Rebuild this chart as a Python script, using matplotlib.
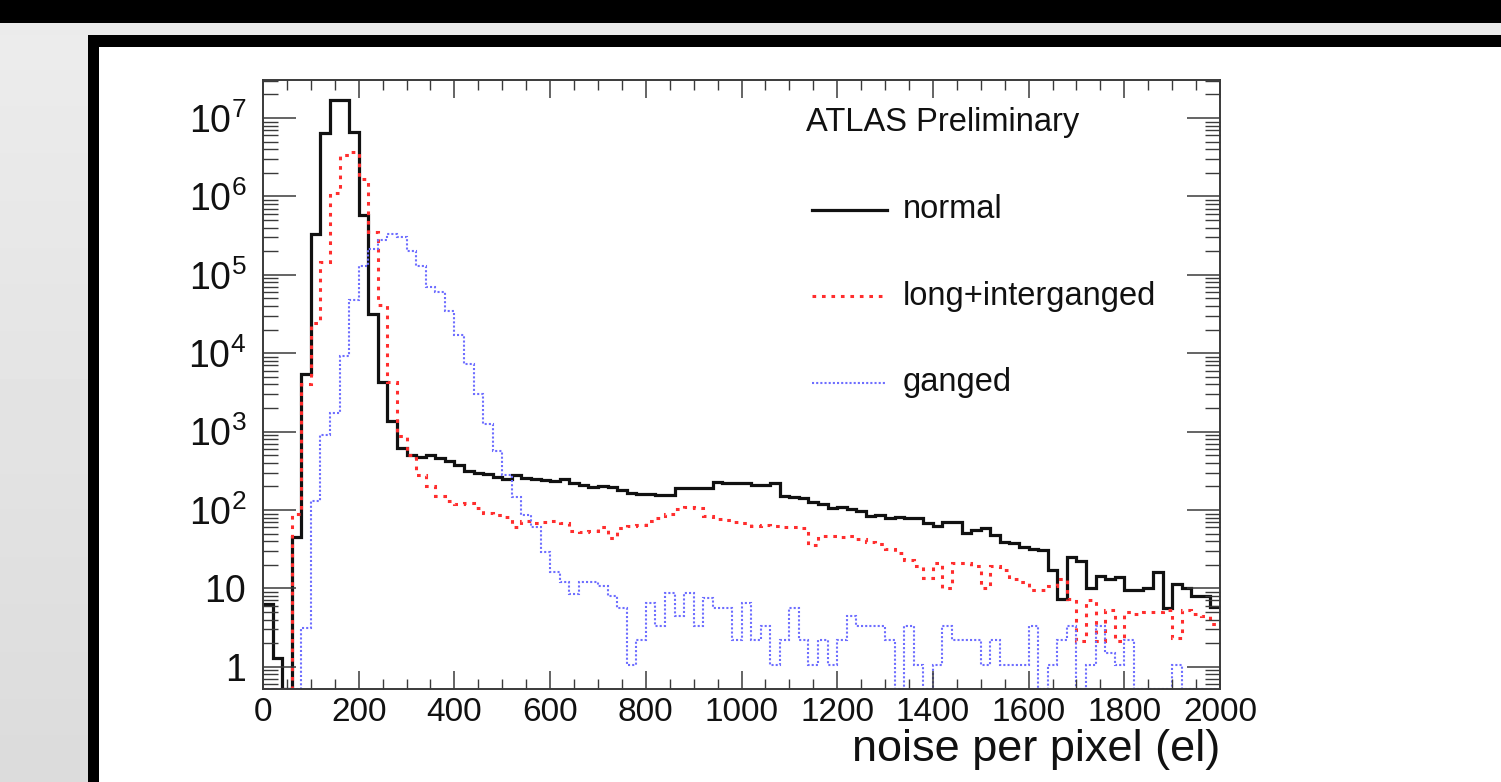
import numpy as np
import matplotlib
matplotlib.use("Agg")
import matplotlib.pyplot as plt
from matplotlib.patches import Rectangle
from matplotlib.ticker import MultipleLocator, LogLocator, FixedLocator, FuncFormatter, NullFormatter

plt.rcParams["font.family"] = ["Liberation Sans", "DejaVu Sans"]
plt.rcParams["mathtext.fontset"] = "custom"
plt.rcParams["mathtext.rm"] = "Liberation Sans"
plt.rcParams["mathtext.it"] = "Liberation Sans:italic"

# =========================
# Data: 100 bins of 20 el, 0..2000
# =========================
BIN_EDGES = np.arange(0, 2001, 20)

normal = [
    6.3, 1.3, 0, 45, 5400, 3.3e5, 6.5e6, 1.7e7, 1.7e7, 6.7e6,
    5.8e5, 3.2e4, 4300, 1350, 610, 500, 470, 497, 455, 420,
    371, 310, 300, 285, 262, 247, 277, 252, 247, 241,
    233, 247, 220, 208, 196, 200, 195, 180, 165, 160,
    158, 155, 155, 188, 188, 188, 188, 230, 218, 220,
    220, 210, 208, 220, 150, 145, 140, 128, 120, 107,
    109, 104, 98, 84, 86, 80, 82, 80, 78, 68,
    63, 70, 70, 51, 56, 58, 48, 39, 38, 34,
    32, 31, 17, 7.3, 25, 22, 10, 14.5, 13, 14,
    9.6, 9.6, 10, 16, 5.6, 11.4, 10, 8, 8, 5.8,
]

long_interganged = [
    0, 0, 0, 88, 4100, 2.4e4, 1.45e5, 1.1e6, 3.4e6, 3.7e6,
    1.65e6, 3.5e5, 4.1e4, 4300, 870, 500, 280, 200, 150, 130,
    118, 122, 105, 92, 87, 81, 61, 73, 69, 71,
    73, 69, 54, 53, 54, 60, 44, 58, 62, 65,
    72, 80, 90, 104, 108, 106, 83, 76, 75, 70,
    68, 63, 64, 63, 61, 61, 58, 36, 46, 47,
    45, 46, 43, 39, 37, 32, 28, 23, 19, 13.6,
    21, 10, 21, 21, 19, 10, 19, 17, 13, 12,
    9.6, 9.6, 10.6, 13, 7.4, 2.1, 7.1, 2.1, 5.3, 2.1,
    5, 4.7, 5, 5, 5.3, 2.3, 5.3, 4.7, 4.5, 3.5,
]

ganged = [
    0, 0, 0, 0, 3.1, 130, 900, 1700, 9300, 4.8e4,
    1.3e5, 2.1e5, 2.8e5, 3.3e5, 3.0e5, 2.0e5, 1.3e5, 7.0e4, 6.0e4, 3.5e4,
    1.7e4, 7300, 3000, 1260, 560, 277, 146, 87, 61, 29,
    16, 12, 8.4, 12, 12, 10.6, 7.9, 5.6, 1.06, 2.2,
    6.5, 3.3, 8.7, 4.4, 8.7, 3.3, 7.6, 5.6, 5.6, 2.2,
    6.5, 2.2, 3.3, 1.06, 2.2, 5.6, 2.2, 1.06, 2.2, 1.06,
    2.2, 4.4, 3.3, 3.3, 3.3, 2.2, 0, 3.3, 1.06, 0,
    1.06, 3.3, 2.2, 2.2, 2.2, 1.06, 2.2, 1.06, 1.06, 1.06,
    3.3, 0, 1.06, 2.2, 3.3, 0, 1.06, 3.3, 1.5, 1.06,
    2.2, 0, 0, 0, 0, 1.06, 0, 0, 0, 0,
]

LABELS = ["normal", "long+interganged", "ganged"]
SERIES = [normal, long_interganged, ganged]
COLORS = ["#111111", "#ff2e2e", "#6e6eff"]
WIDTHS = [2.3, 2.2, 1.5]
STYLES = ["-", (0, (1.2, 1.9)), (0, (1, 1))]

YMIN, YMAX = 0.52, 3.05e7

# =========================
# Figure + screenshot frame
# =========================
W, H = 1501, 782
fig = plt.figure(figsize=(W / 100, H / 100), dpi=100)
fig.patch.set_facecolor("white")

bg = fig.add_axes([0, 0, 1, 1], zorder=0)
bg.set_xlim(0, W)
bg.set_ylim(H, 0)
bg.axis("off")
# grey strip on the left, slightly darker towards the bottom
grad = np.linspace(0.925, 0.86, 64).reshape(-1, 1)
bg.imshow(grad, cmap="gray", vmin=0, vmax=1, extent=(0, 88, H, 23), aspect="auto", zorder=0)
bg.add_patch(Rectangle((0, 23), W, 12, color="#ebebeb", lw=0))
bg.add_patch(Rectangle((0, 0), W, 23, color="black", lw=0))
bg.add_patch(Rectangle((88, 35), W - 88, 12, color="black", lw=0))
bg.add_patch(Rectangle((88, 35), 11, H - 35, color="black", lw=0))
bg.set_xlim(0, W)
bg.set_ylim(H, 0)

# plot area in pixels: x 263..1220, y 80..689
ax = fig.add_axes([263 / W, 1 - 689 / H, 957 / W, 609 / H], zorder=2)
ax.set_facecolor("white")

for vals, lab, c, lw, ls in zip(SERIES, LABELS, COLORS, WIDTHS, STYLES):
    v = np.maximum(np.array(vals, dtype=float), YMIN)
    ax.stairs(v, BIN_EDGES, baseline=None, color=c, lw=lw, linestyle=ls)

ax.set_yscale("log")
ax.set_xlim(0, 2000)
ax.set_ylim(YMIN, YMAX)

ax.xaxis.set_major_locator(MultipleLocator(200))
ax.xaxis.set_minor_locator(MultipleLocator(50))
ax.yaxis.set_major_locator(FixedLocator([10.0 ** k for k in range(0, 8)]))
ax.yaxis.set_minor_locator(LogLocator(base=10, subs=np.arange(2, 10)))
ax.yaxis.set_minor_formatter(NullFormatter())


def ylab(v, pos):
    k = int(round(np.log10(v)))
    if k == 0:
        return "1"
    if k == 1:
        return "10"
    return r"$\mathregular{10^{%d}}$" % k


ax.yaxis.set_major_formatter(FuncFormatter(ylab))

spine_c = "#3a3a3a"
for s in ax.spines.values():
    s.set_color(spine_c)
    s.set_linewidth(1.4)

ax.tick_params(axis="x", which="major", direction="in", top=True, length=13, width=1.1,
               color=spine_c, labelsize=24, pad=6, labelcolor="#111111")
ax.tick_params(axis="x", which="minor", direction="in", top=True, length=7, width=1.0, color=spine_c)
ax.tick_params(axis="y", which="major", direction="in", right=True, length=24, width=1.1,
               color=spine_c, labelsize=27, pad=12, labelcolor="#111111")
ax.tick_params(axis="y", which="minor", direction="in", right=True, length=11, width=1.0, color=spine_c)

ax.set_xlabel("noise per pixel (el)", fontsize=32.5, color="#111111")
ax.xaxis.set_label_coords(1.0, (689 - 749) / 609)
ax.xaxis.label.set_horizontalalignment("right")
ax.xaxis.label.set_verticalalignment("center")

# ATLAS label
ax.text((806 - 263) / 957, (689 - 123) / 609, "ATLAS Preliminary", transform=ax.transAxes,
        fontsize=23.5, va="center", ha="left", color="#111111")

# legend (ROOT-style, no frame)
leg_y = [(689 - 210) / 609, (689 - 296) / 609, (689 - 383) / 609]
for y, lab, c, lw, ls in zip(leg_y, LABELS, COLORS, WIDTHS, STYLES):
    ax.plot([(812 - 263) / 957, (887 - 263) / 957], [y, y], transform=ax.transAxes,
            color=c, lw=lw, linestyle=ls)
    ax.text((903 - 263) / 957, y, lab, transform=ax.transAxes, fontsize=23.5,
            va="center", ha="left", color="#111111")

fig.savefig("out.png", dpi=100)
